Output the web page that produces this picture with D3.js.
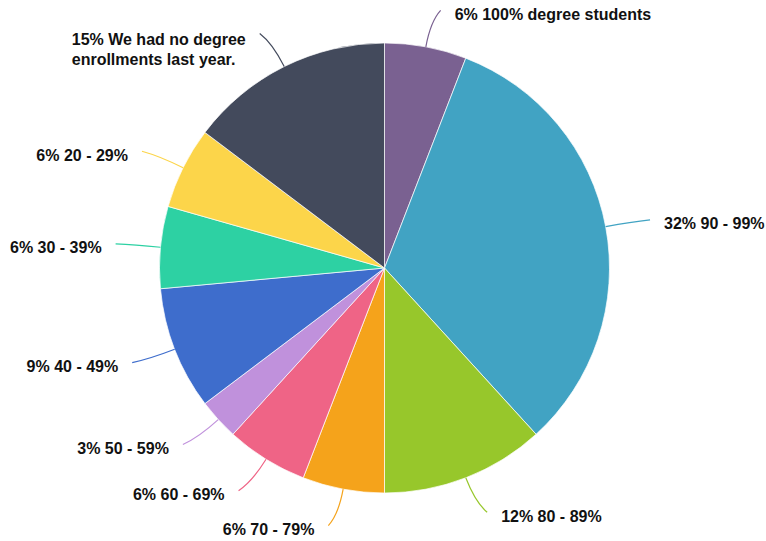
<!DOCTYPE html>
<html><head><meta charset="utf-8">
<script src="https://cdn.jsdelivr.net/npm/d3@7"></script>
<style>html,body{margin:0;padding:0;background:#fff;}svg{display:block;}</style>
</head><body>
<svg id="chart" width="766" height="541"></svg>
<script>
const categories = ["100% degree students","90 - 99%","80 - 89%","70 - 79%","60 - 69%","50 - 59%","40 - 49%","30 - 39%","20 - 29%","We had no degree enrollments last year."];
const counts = [2, 11, 4, 2, 2, 1, 3, 2, 2, 5];
const labelLines = [["6% 100% degree students"],["32% 90 - 99%"],["12% 80 - 89%"],["6% 70 - 79%"],["6% 60 - 69%"],["3% 50 - 59%"],["9% 40 - 49%"],["6% 30 - 39%"],["6% 20 - 29%"],["15% We had no degree","enrollments last year."]];
const colors = ["#7a6191","#41a3c3","#97c72b","#f5a31b","#ef6486","#c091dc","#3e6dcc","#2dd1a3","#fcd54a","#434a5c"];

const W = 766, H = 541, cx = 384.5, cy = 268, R = 225;
const svg = d3.select("#chart");
const g = svg.append("g").attr("transform", `translate(${cx},${cy})`);
const data = categories.map((c, i) => ({cat: c, value: counts[i], color: colors[i], lines: labelLines[i]}));
const pie = d3.pie().value(d => d.value).sort(null);
const arcs = pie(data);
const arc = d3.arc().innerRadius(0).outerRadius(R);

g.selectAll("path.slice").data(arcs).enter().append("path")
  .attr("class", "slice").attr("d", arc)
  .attr("fill", d => d.data.color).attr("stroke", "#fff").attr("stroke-width", 0.7);

function pt(a, r) { return [Math.sin(a) * r, -Math.cos(a) * r]; }

arcs.forEach(d => {
  const a = (d.startAngle + d.endAngle) / 2;
  const side = (a > Math.PI * 0.02 && a < Math.PI) ? 1 : -1;
  const s = pt(a, R);
  const c = pt(a, R + 26);
  const e0 = pt(a, R + 37);
  const e = [e0[0] + 8 * side, e0[1]];
  g.append("path")
    .attr("d", `M${s[0]},${s[1]}Q${c[0]},${c[1]} ${e[0]},${e[1]}`)
    .attr("fill", "none").attr("stroke", d.data.color).attr("stroke-width", 1.2);
  const t = g.append("text")
    .attr("y", e[1] + (d.data.lines.length > 1 ? 6 : 4))
    .attr("text-anchor", "start")
    .attr("font-family", "Liberation Sans, Arial, sans-serif")
    .attr("font-weight", "bold").attr("font-size", "16px").attr("fill", "#111");
  const spans = d.data.lines.map((ln, i) =>
    t.append("tspan").attr("dy", i === 0 ? "0.35em" : "1.25em").text(ln));
  const maxW = d3.max(spans, sp => sp.node().getComputedTextLength());
  const x0 = side > 0 ? e[0] + 14 : e[0] - 14 - maxW;
  spans.forEach(sp => sp.attr("x", x0));
});
</script>
</body></html>
